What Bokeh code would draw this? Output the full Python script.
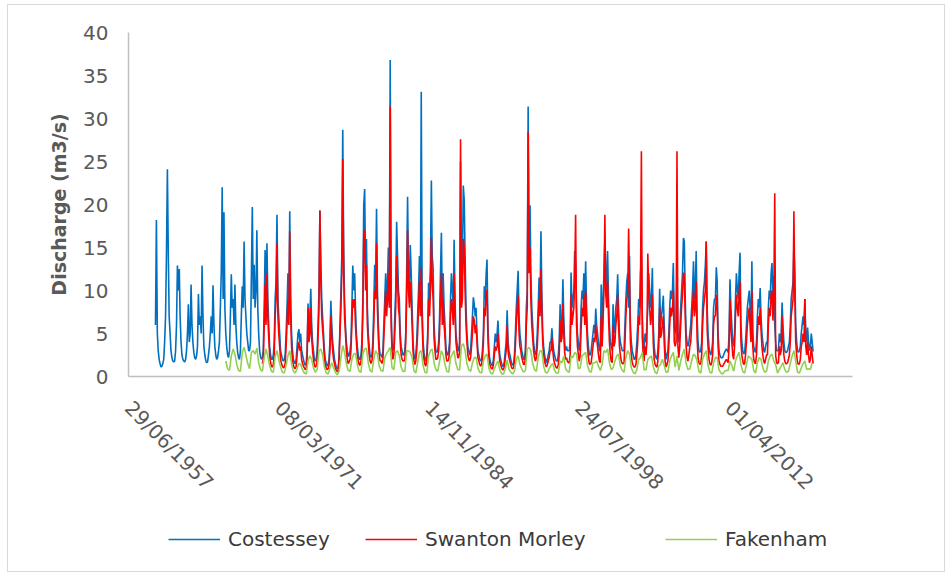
import math
import pandas as pd
from bokeh.plotting import figure
from bokeh.layouts import column
from bokeh.models import (FixedTicker, DatetimeTickFormatter, Legend, LegendItem, Range1d)
from bokeh.embed import file_html
from bokeh.resources import INLINE

# ---------------- data ----------------
x_tick_labels = ["29/06/1957", "08/03/1971", "14/11/1984", "24/07/1998", "01/04/2012"]
x_axis_start = "1957-06-29"
x_axis_end = "2023-07-20"
y_ticks = [0, 5, 10, 15, 20, 25, 30, 35, 40]
series_names = ["Costessey", "Swanton Morley", "Fakenham"]
series_colors = ["#0070C0", "#FF0000", "#92D050"]

# Costessey, monthly values from Dec 1959 (rows = Jan..Dec of each year)
costessey_start = "1959-12"
costessey = [6,
    18.2, 5, 3, 2, 1.5, 1.1, 1.2, 1.5, 2, 4, 7, 14.2,          # 1960
    24.1, 14, 7, 5, 3, 2.2, 1.8, 1.7, 1.8, 3, 6, 12.9,          # 1961
    10, 12.5, 7, 4, 2.5, 2, 1.8, 1.7, 2, 3, 5, 8.4,             # 1962
    4, 5, 10.7, 6, 4, 2.8, 2.2, 2, 2.4, 3.5, 9.6, 6,            # 1963
    7, 5, 12.9, 7, 3.5, 2.5, 1.9, 1.6, 1.7, 2.5, 3.5, 5,        # 1964
    7, 5, 10.6, 6, 3.5, 2.5, 2, 2.2, 3, 4, 8, 12,               # 1965
    22, 9, 19.1, 8, 5, 3.5, 2.5, 2.2, 3, 7, 11.9, 8,            # 1966
    9, 6, 10.7, 6, 4, 2.8, 2.2, 2, 3, 7, 10.5, 8,               # 1967
    15.7, 9, 7, 5, 4, 3, 3, 4, 12, 19.7, 9, 13,                 # 1968
    8, 10, 17, 8, 5, 3, 2.3, 2, 2.2, 3, 8, 14.7,                # 1969
    8, 15.5, 9, 6, 3.5, 2.5, 2, 2, 2.5, 4, 9, 11,               # 1970
    18.8, 9, 7, 5, 3, 2.5, 2, 1.8, 2, 2.5, 5, 8,                # 1971
    12, 8, 19.2, 9, 5, 3, 2, 1.6, 1.5, 2, 3.5, 5,               # 1972
    5.5, 4, 5, 3, 2.5, 2, 1.5, 1.3, 1.6, 3, 8.5, 5,             # 1973
    7, 10.2, 6, 4, 3, 2, 1.8, 2, 3, 6, 10, 19.3,                # 1974
    13.4, 9, 7, 5, 3, 2, 1.5, 1.2, 1.4, 2, 4, 8.8,              # 1975
    6, 4, 3, 2, 1.5, 1.1, 0.9, 0.9, 2.5, 6, 10, 14,             # 1976
    28.7, 15, 9, 6, 4, 3, 2.3, 2.5, 3, 4, 8, 12.9,              # 1977
    10, 12, 8, 5, 3.5, 2.5, 2, 2, 2.5, 4, 9, 19.9,              # 1978
    21.8, 12, 16, 8, 5, 3.5, 2.5, 2.2, 2.5, 4, 8, 13,           # 1979
    11, 19.5, 10, 6, 3.5, 2.5, 2.5, 2.2, 3, 6, 9, 12,           # 1980
    9, 11, 15, 10, 36.8, 8, 4, 3, 3.5, 7, 10, 18,               # 1981
    14, 10, 9, 5, 3.5, 3, 2.5, 2.5, 3, 5, 12, 20.9,             # 1982
    12, 10, 15.3, 12, 8, 4, 2.5, 2, 2.5, 4, 7, 10,              # 1983
    14, 9, 33.1, 8, 4, 2.8, 2, 1.8, 2.5, 5, 10.9, 9,            # 1984
    13, 22.8, 14, 12.6, 6, 4, 3, 2.8, 3, 4, 7, 12,              # 1985
    16.7, 8, 12, 8, 6, 3.5, 2.5, 2.5, 3, 4, 9, 12,              # 1986
    10, 8, 15.9, 9, 5, 4, 3, 3, 4, 25, 10, 12,                  # 1987
    22.2, 20.5, 14, 8, 5, 3.5, 3, 2.5, 3, 5, 7, 9.2,            # 1988
    8.4, 7, 8, 5, 3, 2.5, 2, 1.8, 2, 3, 5, 10.5,                # 1989
    9, 12, 13.6, 6, 3, 2, 1.6, 1.3, 1.3, 2, 3.5, 5,             # 1990
    4, 5, 6.5, 4, 2.5, 2, 1.5, 1.2, 1.2, 1.8, 3, 4,             # 1991
    7.7, 4, 3, 2.5, 2, 1.5, 1.3, 1.5, 2.5, 5, 8, 10,            # 1992
    12.3, 7, 5, 4, 3, 2.5, 2, 2, 3, 8, 10, 31.4,                # 1993
    15, 19.9, 12, 8, 6, 4, 3, 2.5, 3, 5, 8, 11.5,               # 1994
    9, 16.9, 10, 5, 3.5, 2.5, 2, 1.6, 2, 2.5, 3, 4,             # 1995
    4, 5.6, 4, 3, 2.5, 2, 1.8, 1.8, 2.5, 4, 8.4, 5,             # 1996
    6, 11.3, 7, 4, 3, 3.5, 3, 3, 3, 4, 12.1, 8,                 # 1997
    9, 10, 14.6, 13, 8, 5, 4, 3, 4, 8, 10, 9,                   # 1998
    12, 8, 13.4, 8, 5, 3.5, 2.5, 2.5, 3, 4, 5, 6,               # 1999
    5, 7.9, 6, 5, 4, 3, 3, 10.7, 5, 9, 12, 16,                  # 2000
    12, 10, 14.6, 9, 6, 4, 3.5, 3, 8.4, 5, 6, 8,                # 2001
    9, 11.9, 8, 5, 4, 3.5, 3, 3, 3, 6, 9, 11,                   # 2002
    12, 8, 14, 6, 4, 3, 2.5, 2, 2, 2.5, 4, 6,                   # 2003
    9, 8, 12, 14, 7, 4, 3, 5, 4, 6, 8, 12,                      # 2004
    10, 8, 9, 12.6, 6, 3.5, 2.5, 2.2, 2, 3, 5, 10.2,            # 2005
    6, 7, 8, 9.4, 6, 3, 2, 2.5, 3, 5, 8, 10,                    # 2006
    9, 10, 13.2, 6, 5, 6, 12.3, 5, 4, 5, 8, 10,                 # 2007
    12, 16.1, 15.7, 9, 5, 4, 3.5, 4, 5, 6, 8, 10,               # 2008
    13.4, 9, 10, 14.6, 7, 4, 3, 2.8, 3, 4, 8, 10,               # 2009
    11, 13, 15.7, 8, 5, 3.5, 2.8, 2.5, 3, 4, 8, 9,              # 2010
    9, 12.7, 11.1, 5, 3, 2.5, 2.2, 2.2, 2.2, 2.5, 2.8, 3,       # 2011
    3.2, 3, 2.8, 5, 11.3, 8, 6, 4, 3.5, 5, 9, 12,               # 2012
    10, 9, 12, 14.4, 6, 4, 3, 2.6, 2.8, 4, 6, 8,                # 2013
    9, 10, 8, 6, 13.4, 5, 3.5, 3, 2.8, 4, 7, 9,                 # 2014
    8, 10.3, 7, 5, 4, 3, 2.8, 3.5, 4, 4, 8, 10,                 # 2015
    9, 12, 13.2, 9, 11.7, 6, 4, 3, 3, 3, 5, 4,                  # 2016
    5, 8.6, 6, 4, 3, 2.8, 2.8, 3, 3.5, 4, 6, 9,                 # 2017
    10, 11, 15.3, 12, 6, 4, 3, 2.8, 3, 3.5, 5, 6,               # 2018
    7, 6, 9, 5, 4, 5.7, 4, 3, 3.5, 5, 4, 2.9,                   # 2019
]

# Swanton Morley, monthly values from Sep 1969
swanton_start = "1969-09"
swanton = [1.5, 2, 6, 10.7,                                      # 1969 Sep-Dec
    6, 12, 7, 4.5, 2.5, 1.6, 1.2, 1.1, 1.4, 2.5, 7, 9,          # 1970
    15.5, 7, 5, 3.5, 2, 1.5, 1.2, 1, 1.1, 1.5, 3.5, 6,          # 1971
    9, 6, 16.9, 7, 3.5, 2, 1.3, 1, 0.9, 1.2, 2.5, 3.5,          # 1972
    4, 3, 3.5, 2, 1.5, 1.2, 1, 0.8, 1, 2, 8, 4,                 # 1973
    5, 8, 4.5, 3, 2, 1.3, 1.1, 1.2, 2, 4.5, 8, 19.3,            # 1974
    11, 7, 5.5, 4, 2, 1.3, 1, 0.8, 0.9, 1.3, 3, 7,              # 1975
    4.5, 3, 2, 1.5, 1, 0.7, 0.6, 0.6, 2, 5, 8, 12,              # 1976
    25.3, 12, 7, 5, 3, 2, 1.5, 1.7, 2, 3, 6, 9,                 # 1977
    8, 9, 6, 4, 2.5, 1.8, 1.4, 1.3, 1.8, 3, 7, 16.1,            # 1978
    17, 10, 13, 6, 4, 2.5, 1.8, 1.5, 1.8, 3, 6, 10,             # 1979
    9, 15.5, 8, 4.5, 2.5, 1.8, 1.8, 1.5, 2, 4.5, 7, 10,         # 1980
    7, 9, 12, 8, 31.4, 6, 3, 2, 2.5, 5, 8, 14,                  # 1981
    11, 8, 7, 4, 2.5, 2, 1.8, 1.8, 2, 4, 9, 17,                 # 1982
    10, 8, 11, 9, 6, 3, 1.8, 1.4, 1.8, 3, 5, 8,                 # 1983
    11, 7, 12.6, 6, 3, 2, 1.4, 1.2, 1.8, 4, 9, 7,               # 1984
    10, 16.1, 11, 9, 4.5, 3, 2, 2, 2.2, 3, 5, 9,                # 1985
    12, 6, 9, 6, 4.5, 2.5, 1.8, 1.8, 2, 3, 7, 9,                # 1986
    8, 6, 12, 7, 4, 3, 2.2, 2.2, 3, 27.6, 8, 9,                 # 1987
    16, 15, 10, 6, 4, 2.5, 2, 1.8, 2.2, 3.5, 5, 7,              # 1988
    6.5, 5, 6, 4, 2.2, 1.8, 1.4, 1.2, 1.4, 2.2, 4, 8,           # 1989
    7, 10, 10, 4.5, 2.2, 1.4, 1.1, 0.9, 0.9, 1.4, 2.5, 3.5,     # 1990
    3, 3.5, 5, 3, 1.8, 1.4, 1, 0.8, 0.8, 1.2, 2.2, 3,           # 1991
    6, 3, 2.2, 1.8, 1.4, 1, 0.9, 1, 1.8, 3.5, 6, 8,             # 1992
    9.5, 5, 3.5, 3, 2.2, 1.8, 1.4, 1.4, 2.2, 6, 8, 28.4,        # 1993
    12, 15, 9, 6, 4.5, 3, 2.2, 1.8, 2.2, 3.5, 6, 9,             # 1994
    7, 12.5, 7.5, 4, 2.5, 1.8, 1.4, 1.1, 1.4, 1.8, 2.2, 3,      # 1995
    3, 4.5, 3, 2, 1.5, 1.2, 1, 1, 1.4, 2.5, 6.5, 4,             # 1996
    4.5, 8.5, 5, 2.8, 2, 2.2, 1.8, 1.6, 1.6, 2.5, 9.5, 6,       # 1997
    7, 8, 11, 18.8, 6, 3.5, 2.5, 1.8, 2.5, 5.5, 8, 7,           # 1998
    9.5, 6, 10, 6, 3.5, 2.2, 1.5, 1.4, 1.6, 2.5, 3.5, 4.5,      # 1999
    4, 6, 4.5, 3.5, 2.5, 1.8, 1.6, 7, 3.5, 6.5, 10, 18.8,       # 2000
    9.5, 8, 11, 7, 4, 2.5, 1.8, 1.6, 6, 3.5, 4, 6,              # 2001
    7, 9.5, 6, 3.5, 2.5, 1.8, 1.5, 1.5, 1.6, 4, 7, 9,           # 2002
    9.5, 17.2, 11, 4, 2.5, 1.6, 1.3, 1.1, 1.1, 1.4, 2.5, 4,     # 2003
    7, 6, 9.5, 26.2, 4.5, 2.5, 1.8, 3.5, 2.5, 4, 14.3, 9.5,     # 2004
    8, 6, 7, 9.5, 4, 2, 1.4, 1.2, 1.1, 1.8, 3.5, 8,             # 2005
    4.5, 5, 6, 7, 4, 1.8, 1.1, 1.4, 1.8, 3.5, 6, 8,             # 2006
    7, 8, 10, 4, 3.5, 4, 26.2, 3.5, 2.2, 3.5, 6, 8,             # 2007
    9.5, 12, 12, 7, 3.5, 2.2, 1.8, 2.5, 3.5, 4, 6, 8,           # 2008
    10, 7, 8, 11, 4.5, 2.2, 1.6, 1.4, 1.5, 2.5, 6, 8,           # 2009
    9, 10, 15.7, 5.5, 3.5, 2, 1.5, 1.3, 1.6, 2.5, 6, 7,         # 2010
    7, 9.5, 8.5, 3.5, 1.8, 1.4, 1.2, 1.2, 1.2, 1.4, 1.6, 1.8,   # 2011
    2, 1.8, 1.6, 3.5, 9, 5.5, 4, 2.5, 2, 3.5, 7, 9.5,           # 2012
    8, 7, 9.5, 11, 4, 2.5, 1.8, 1.4, 1.5, 2.5, 4, 6,            # 2013
    7, 8, 6, 4, 10, 3.5, 2, 1.6, 1.5, 2.5, 5, 7,                # 2014
    6, 8, 5.5, 3.5, 2.5, 1.8, 1.5, 2, 2.5, 2.5, 6, 8,           # 2015
    7, 9.5, 10, 6.5, 9, 21.3, 2.5, 1.6, 1.5, 1.6, 3.5, 2.5,     # 2016
    3, 7, 4, 2.5, 1.8, 1.5, 1.5, 1.6, 2, 2.5, 4, 7,             # 2017
    8, 9, 19.2, 9.5, 4, 2.5, 1.6, 1.4, 1.5, 2, 3.5, 4,          # 2018
    5, 4, 9, 3.5, 2.5, 4, 2.5, 1.6, 2, 3.5, 2.5, 1.5,           # 2019
]

# Fakenham, values every two months from May 1966 (rows = Jan, Mar, May, Jul, Sep, Nov)
fakenham_start = "1966-05"
fakenham = [1.8, 0.9, 0.7, 2.4,                                  # 1966 May-Nov
    3.2, 2.6, 1.4, 0.7, 0.6, 2.8,    # 1967
    3.4, 2.5, 1.5, 0.9, 2.8, 3.0,    # 1968
    2.6, 3.3, 1.6, 0.8, 0.6, 2.2,    # 1969
    3.2, 2.4, 1.3, 0.6, 0.5, 2.3,    # 1970
    3.0, 2.0, 1.1, 0.5, 0.4, 1.3,    # 1971
    2.4, 3.0, 1.5, 0.6, 0.4, 0.9,    # 1972
    1.5, 1.4, 0.8, 0.4, 0.3, 1.8,    # 1973
    2.4, 2.0, 1.0, 0.5, 0.8, 3.0,    # 1974
    3.2, 2.5, 1.1, 0.4, 0.3, 1.0,    # 1975
    1.6, 1.0, 0.5, 0.2, 0.6, 2.2,    # 1976
    3.6, 2.8, 1.5, 0.7, 0.6, 2.0,    # 1977
    2.6, 2.7, 1.4, 0.6, 0.5, 2.6,    # 1978
    3.2, 3.3, 1.6, 0.7, 0.5, 2.0,    # 1979
    3.0, 2.6, 1.2, 0.7, 0.6, 2.2,    # 1980
    2.7, 3.0, 3.4, 1.0, 0.8, 2.8,    # 1981
    3.0, 2.4, 1.1, 0.6, 0.6, 3.0,    # 1982
    3.0, 2.8, 2.2, 0.7, 0.4, 1.6,    # 1983
    2.8, 3.0, 1.3, 0.5, 0.4, 2.4,    # 1984
    3.0, 3.2, 1.6, 0.8, 0.6, 1.8,    # 1985
    3.0, 2.5, 1.4, 0.6, 0.5, 2.2,    # 1986
    2.6, 3.0, 1.5, 0.8, 0.8, 3.6,    # 1987
    3.8, 3.0, 1.5, 0.8, 0.6, 1.6,    # 1988
    2.2, 2.2, 1.0, 0.5, 0.4, 1.8,    # 1989
    2.4, 2.6, 1.0, 0.4, 0.3, 0.9,    # 1990
    1.4, 1.8, 0.8, 0.3, 0.3, 0.9,    # 1991
    1.9, 0.9, 0.5, 0.3, 0.6, 2.0,    # 1992
    2.4, 1.4, 0.9, 0.5, 0.7, 3.2,    # 1993
    3.4, 3.0, 1.5, 0.8, 0.6, 2.2,    # 1994
    3.0, 3.0, 1.2, 0.5, 0.4, 0.9,    # 1995
    1.3, 1.5, 0.7, 0.4, 0.4, 1.8,    # 1996
    1.6, 2.4, 0.9, 0.6, 0.5, 2.4,    # 1997
    2.2, 2.8, 2.6, 0.9, 1.0, 2.4,    # 1998
    2.6, 2.8, 1.3, 0.6, 0.5, 1.6,    # 1999
    1.6, 1.8, 1.2, 0.7, 1.4, 3.0,    # 2000
    2.8, 3.2, 1.6, 0.8, 1.0, 1.8,    # 2001
    2.4, 2.6, 1.2, 0.7, 0.5, 2.2,    # 2002
    3.0, 2.6, 1.0, 0.5, 0.3, 0.8,    # 2003
    2.0, 2.2, 2.8, 0.8, 0.8, 2.0,    # 2004
    2.2, 2.4, 1.2, 0.5, 0.3, 1.2,    # 2005
    1.4, 2.0, 1.3, 0.5, 0.5, 1.8,    # 2006
    2.4, 2.8, 1.1, 2.4, 0.7, 1.8,    # 2007
    2.6, 3.2, 1.5, 0.8, 0.9, 1.8,    # 2008
    2.6, 2.4, 1.8, 0.6, 0.4, 2.0,    # 2009
    2.6, 3.0, 1.3, 0.5, 0.4, 1.6,    # 2010
    2.2, 2.2, 0.8, 0.4, 0.3, 0.6,    # 2011
    0.7, 0.7, 1.8, 1.3, 0.6, 1.8,    # 2012
    2.4, 2.8, 1.4, 0.6, 0.4, 1.4,    # 2013
    2.4, 2.2, 2.0, 0.7, 0.4, 1.6,    # 2014
    2.2, 2.0, 1.0, 0.5, 0.6, 1.8,    # 2015
    2.4, 2.6, 1.8, 1.4, 0.4, 0.8,    # 2016
    1.2, 1.6, 0.8, 0.5, 0.6, 1.5,    # 2017
    2.4, 3.0, 1.8, 0.5, 0.4, 1.0,    # 2018
    1.5, 1.8, 0.8, 0.9, 0.8, 1.6,    # 2019
]

# ---------------- chart ----------------
def series_dates(start, n, months):
    return pd.date_range(pd.Timestamp(start), periods=n, freq=f"{months}MS") + pd.Timedelta(days=14)

FONT = "DejaVu Sans"
GREY = "#595959"
LW = 1.6

series = [
    (series_dates(costessey_start, len(costessey), 1), costessey),
    (series_dates(swanton_start, len(swanton), 1), swanton),
    (series_dates(fakenham_start, len(fakenham), 2), fakenham),
]

p = figure(width=936, height=500, x_axis_type="datetime",
           output_backend="svg", toolbar_location=None,
           x_range=Range1d(pd.Timestamp(x_axis_start), pd.Timestamp(x_axis_end)),
           y_range=Range1d(0, 40),
           min_border_left=120, min_border_right=92,
           min_border_top=27, min_border_bottom=125)
p.outline_line_color = None
p.xgrid.grid_line_color = None
p.ygrid.grid_line_color = None

for (xs, ys), color in zip(series, series_colors):
    p.line(xs, ys, line_color=color, line_width=LW)

tick_dates = pd.to_datetime(x_tick_labels, format="%d/%m/%Y")
p.xaxis.ticker = FixedTicker(ticks=[t.timestamp() * 1000 for t in tick_dates])
fmt = "%d/%m/%Y"
p.xaxis.formatter = DatetimeTickFormatter(milliseconds=fmt, seconds=fmt, minsec=fmt, minutes=fmt,
                                          hourmin=fmt, hours=fmt, days=fmt, months=fmt, years=fmt)
p.xaxis.major_label_orientation = -math.pi / 4
p.yaxis.ticker = FixedTicker(ticks=y_ticks)

for ax in (p.xaxis, p.yaxis):
    ax.axis_line_color = "#C0C0C0"
    ax.axis_line_width = 1.5
    ax.major_tick_line_color = None
    ax.minor_tick_line_color = None
    ax.major_tick_out = 0
    ax.major_tick_in = 0
    ax.minor_tick_out = 0
    ax.minor_tick_in = 0
    ax.major_label_text_font = FONT
    ax.major_label_text_font_size = "20px"
    ax.major_label_text_color = GREY

p.xaxis.major_label_standoff = 28
p.yaxis.major_label_standoff = 20
p.yaxis.axis_label = "Discharge (m3/s)"
p.yaxis.axis_label_text_font = FONT
p.yaxis.axis_label_text_font_size = "19px"
p.yaxis.axis_label_text_font_style = "bold"
p.yaxis.axis_label_text_color = GREY
p.yaxis.axis_label_standoff = 10

# legend strip below the chart (its frame lines up with the chart frame)
pl = figure(width=936, height=66, output_backend="svg", toolbar_location=None,
            x_axis_location=None, y_axis_location=None,
            min_border_left=120, min_border_right=92, min_border_top=0, min_border_bottom=0,
            x_range=Range1d(0, 1), y_range=Range1d(0, 1))
pl.outline_line_color = None
pl.xgrid.grid_line_color = None
pl.ygrid.grid_line_color = None

legend_x = [40, 237, 537]
for name, color, (xs, ys), lx in zip(series_names, series_colors, series, legend_x):
    key = pl.line(xs, ys, line_color=color, line_width=LW)   # out of view; used as legend key
    leg = Legend(items=[LegendItem(label=name, renderers=[key])], location=(lx, 20),
                 orientation="horizontal", glyph_width=52, glyph_height=20,
                 label_standoff=8, padding=0, margin=0, border_line_color=None,
                 background_fill_alpha=0, label_text_font=FONT,
                 label_text_font_size="20px", label_text_color="#3A3A3A")
    pl.add_layout(leg)

layout = column(p, pl, spacing=0)
layout.styles = {"border": "1px solid #D9D9D9", "margin-left": "7px", "margin-top": "4px"}

open("out.html", "w").write(file_html(layout, INLINE))
